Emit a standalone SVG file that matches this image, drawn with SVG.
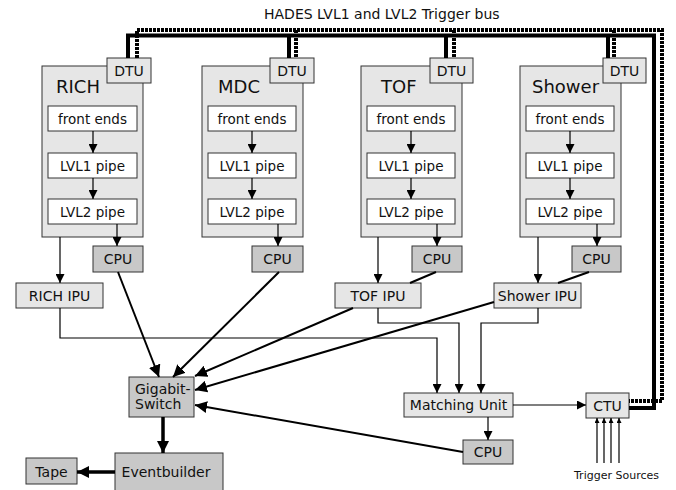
<svg xmlns="http://www.w3.org/2000/svg" width="676" height="490" viewBox="0 0 676 490">
<defs>
<style>
text{font-family:"DejaVu Sans","Liberation Sans",sans-serif;fill:#111}
.det{fill:#e6e6e6;stroke:#333;stroke-width:1}
.lt{fill:#e6e6e6;stroke:#333;stroke-width:1}
.dk{fill:#c8c8c8;stroke:#333;stroke-width:1}
.wh{fill:#fff;stroke:#333;stroke-width:1}
.big{font-size:18px}
.lbl{font-size:14px;text-anchor:middle}
.in{font-size:13.5px;text-anchor:middle}
.c{fill:none;stroke:#000;stroke-width:1.2}
.c2{fill:none;stroke:#000;stroke-width:2}
.th{fill:none;stroke:#000;stroke-width:3.5}
.bus{fill:none;stroke:#000;stroke-width:4}
.dot{fill:none;stroke:#000;stroke-width:4;stroke-dasharray:3 1}
</style>
<marker id="a" viewBox="0 0 10 10" refX="10" refY="5" markerWidth="9" markerHeight="9" markerUnits="userSpaceOnUse" orient="auto"><path d="M0,0 L10,5 L0,10 z"/></marker>
<marker id="ab" viewBox="0 0 10 10" refX="10" refY="5" markerWidth="12" markerHeight="12" markerUnits="userSpaceOnUse" orient="auto"><path d="M0,0 L10,5 L0,10 z"/></marker>
<marker id="as" viewBox="0 0 10 10" refX="10" refY="5" markerWidth="6" markerHeight="5" markerUnits="userSpaceOnUse" orient="auto"><path d="M0,0 L10,5 L0,10 z"/></marker>
</defs>
<rect width="676" height="490" fill="#fff"/>

<text x="264" y="19" style="font-size:14px">HADES LVL1 and LVL2 Trigger bus</text>

<g id="rich">
<rect class="det" x="42" y="66" width="101" height="171"/>
<text class="big" x="56" y="93">RICH</text>
<rect class="wh" x="48" y="106" width="89" height="25"/><text class="in" x="92.5" y="123.5">front ends</text>
<rect class="wh" x="48" y="153" width="89" height="25"/><text class="in" x="92.5" y="170.5">LVL1 pipe</text>
<rect class="wh" x="48" y="199" width="89" height="25"/><text class="in" x="92.5" y="216.5">LVL2 pipe</text>
</g>
<g id="rich-dtu"><rect class="lt" x="107" y="58" width="44" height="25"/><text class="lbl" x="129" y="76">DTU</text></g>

<g id="mdc">
<rect class="det" x="202" y="66" width="101" height="171"/>
<text class="big" x="218" y="93">MDC</text>
<rect class="wh" x="208" y="106" width="88" height="25"/><text class="in" x="252" y="123.5">front ends</text>
<rect class="wh" x="208" y="153" width="88" height="25"/><text class="in" x="252" y="170.5">LVL1 pipe</text>
<rect class="wh" x="208" y="199" width="88" height="25"/><text class="in" x="252" y="216.5">LVL2 pipe</text>
</g>
<g id="mdc-dtu"><rect class="lt" x="270" y="58" width="44" height="25"/><text class="lbl" x="292" y="76">DTU</text></g>

<g id="tof">
<rect class="det" x="361" y="66" width="101" height="171"/>
<text class="big" x="381" y="93">TOF</text>
<rect class="wh" x="367" y="106" width="88" height="25"/><text class="in" x="411" y="123.5">front ends</text>
<rect class="wh" x="367" y="153" width="88" height="25"/><text class="in" x="411" y="170.5">LVL1 pipe</text>
<rect class="wh" x="367" y="199" width="88" height="25"/><text class="in" x="411" y="216.5">LVL2 pipe</text>
</g>
<g id="tof-dtu"><rect class="lt" x="430" y="58" width="43" height="25"/><text class="lbl" x="451.5" y="76">DTU</text></g>

<g id="shower">
<rect class="det" x="520" y="66" width="101" height="171"/>
<text class="big" x="532" y="93">Shower</text>
<rect class="wh" x="526" y="106" width="88" height="25"/><text class="in" x="570" y="123.5">front ends</text>
<rect class="wh" x="526" y="153" width="88" height="25"/><text class="in" x="570" y="170.5">LVL1 pipe</text>
<rect class="wh" x="526" y="199" width="88" height="25"/><text class="in" x="570" y="216.5">LVL2 pipe</text>
</g>
<g id="shower-dtu"><rect class="lt" x="603" y="58" width="43" height="25"/><text class="lbl" x="624.5" y="76">DTU</text></g>

<g id="rich-cpu"><rect class="dk" x="93" y="246" width="50" height="26"/><text class="lbl" x="118" y="264">CPU</text></g>
<g id="mdc-cpu"><rect class="dk" x="252" y="246" width="51" height="26"/><text class="lbl" x="277.5" y="264">CPU</text></g>
<g id="tof-cpu"><rect class="dk" x="412" y="246" width="50" height="26"/><text class="lbl" x="437" y="264">CPU</text></g>
<g id="shower-cpu"><rect class="dk" x="572" y="246" width="49" height="26"/><text class="lbl" x="596.5" y="264">CPU</text></g>

<g id="rich-ipu"><rect class="lt" x="16" y="283" width="87" height="25"/><text class="lbl" x="59.5" y="300.5">RICH IPU</text></g>
<g id="tof-ipu"><rect class="lt" x="335" y="283" width="86" height="25"/><text class="lbl" x="378" y="300.5">TOF IPU</text></g>
<g id="shower-ipu"><rect class="lt" x="494" y="283" width="87" height="25"/><text class="lbl" x="537.5" y="300.5">Shower IPU</text></g>

<g id="switch"><rect class="dk" x="129" y="377" width="65" height="40"/><text x="135" y="394" style="font-size:14px">Gigabit-</text><text x="135" y="409" style="font-size:14px">Switch</text></g>
<g id="eventbuilder"><rect class="dk" x="115" y="453" width="108" height="42"/><text class="lbl" x="166" y="477">Eventbuilder</text></g>
<g id="tape"><rect class="dk" x="26" y="458" width="51" height="26"/><text class="lbl" x="51.5" y="477">Tape</text></g>

<g id="matching-unit"><rect class="lt" x="404" y="393" width="109" height="24"/><text class="lbl" x="458.5" y="410">Matching Unit</text></g>
<g id="mu-cpu"><rect class="dk" x="463" y="440" width="50" height="24"/><text class="lbl" x="488" y="457">CPU</text></g>
<g id="ctu"><rect class="lt" x="586" y="393" width="43" height="25"/><text class="lbl" x="607.5" y="410.5">CTU</text></g>
<text x="616.5" y="479" style="font-size:11px;text-anchor:middle">Trigger Sources</text>

<g id="connectors">
<path class="bus" d="M128,58 V35.5 H654 V408 H629"/>
<path class="bus" d="M289,35.5 V58 M446,35.5 V58 M608,35.5 V58"/>
<path class="dot" d="M137,58 V30 H662 V401 H629"/>
<path class="dot" d="M296,30 V58 M454,30 V58 M614,30 V58"/>

<path class="c" d="M93,131 V153" marker-end="url(#a)"/>
<path class="c" d="M93,178 V199" marker-end="url(#a)"/>
<path class="c" d="M252,131 V153" marker-end="url(#a)"/>
<path class="c" d="M252,178 V199" marker-end="url(#a)"/>
<path class="c" d="M411,131 V153" marker-end="url(#a)"/>
<path class="c" d="M411,178 V199" marker-end="url(#a)"/>
<path class="c" d="M570,131 V153" marker-end="url(#a)"/>
<path class="c" d="M570,178 V199" marker-end="url(#a)"/>

<path class="c" d="M117,224 V246" marker-end="url(#a)"/>
<path class="c" d="M278,224 V246" marker-end="url(#a)"/>
<path class="c" d="M437,224 V246" marker-end="url(#a)"/>
<path class="c" d="M597,224 V246" marker-end="url(#a)"/>

<path class="c" d="M60,237 V283" marker-end="url(#a)"/>
<path class="c" d="M378,237 V283" marker-end="url(#a)"/>
<path class="c" d="M538,237 V283" marker-end="url(#a)"/>

<path class="c2" d="M436,272 L410,283"/>
<path class="c2" d="M589,272 L558,283"/>

<path class="c" d="M60,308 V338 H437 V393" marker-end="url(#a)"/>
<path class="c" d="M378,308 V323 H459 V393" marker-end="url(#a)"/>
<path class="c" d="M538,308 V323 H481 V393" marker-end="url(#a)"/>

<path class="c2" d="M118,272 L159,377" marker-end="url(#ab)"/>
<path class="c2" d="M279,272 L173,377" marker-end="url(#ab)"/>
<path class="c2" d="M353,308 L195,376" marker-end="url(#ab)"/>
<path class="c2" d="M494,302 L195,390" marker-end="url(#ab)"/>
<path class="c2" d="M463,452 L195,405" marker-end="url(#ab)"/>

<path class="th" d="M163,417 V453" marker-end="url(#ab)"/>
<path class="th" d="M115,472 H77" marker-end="url(#ab)"/>

<path class="c" d="M513,405 H586" marker-end="url(#a)"/>
<path class="c" d="M488,417 V440" marker-end="url(#a)"/>

<path class="c" d="M597,463 V418" marker-end="url(#as)"/>
<path class="c" d="M604,463 V418" marker-end="url(#as)"/>
<path class="c" d="M611,463 V418" marker-end="url(#as)"/>
<path class="c" d="M619,463 V418" marker-end="url(#as)"/>
</g>
</svg>
